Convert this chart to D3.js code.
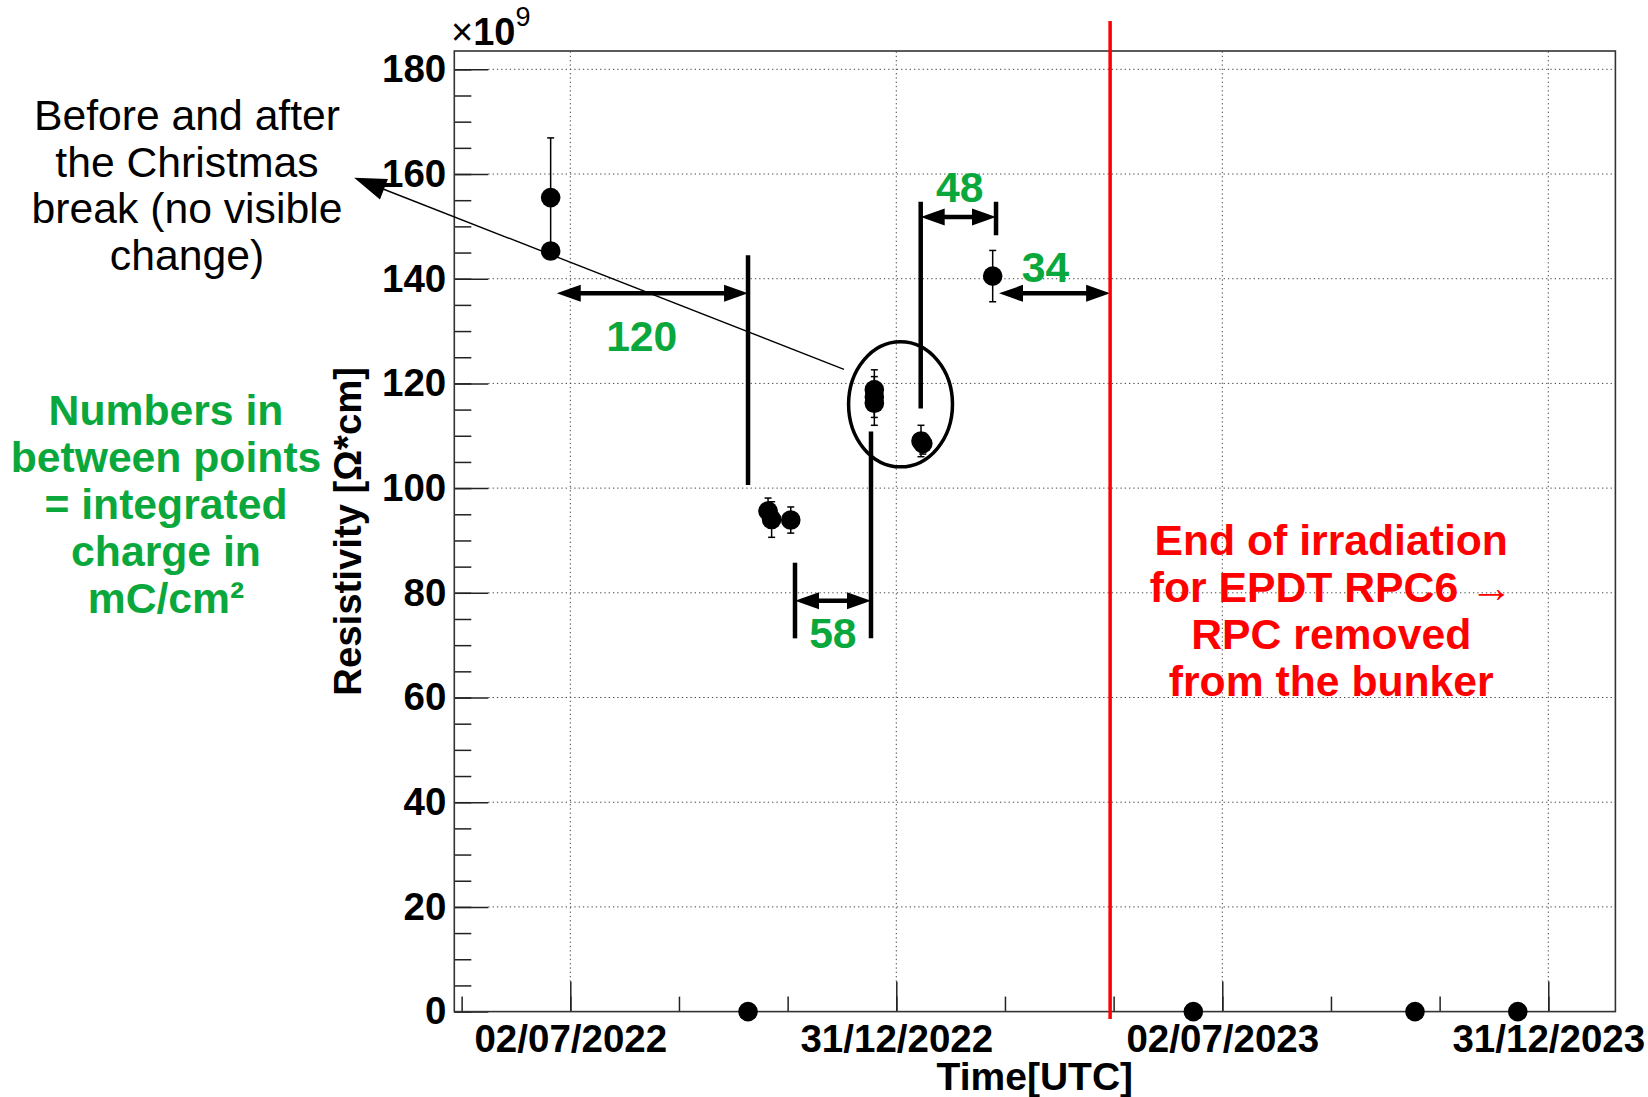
<!DOCTYPE html>
<html><head><meta charset="utf-8">
<script src="https://cdn.jsdelivr.net/npm/d3@7"></script>
<style>
body{margin:0;background:#fff}
svg{display:block}
text{font-family:"Liberation Sans",Arial,Helvetica,sans-serif}
</style>
</head><body><svg id="c" width="1648" height="1097"></svg>
<script>
// ---- data ----
const pointDates = ["2022-06-21T00:00Z","2022-06-21T00:00Z","2022-10-09T12:00Z","2022-10-20T17:00Z","2022-10-22T17:00Z","2022-11-02T10:00Z","2022-12-19T05:00Z","2022-12-19T05:00Z","2022-12-19T05:00Z","2023-01-14T08:00Z","2023-01-15T08:00Z","2023-02-23T11:00Z","2023-06-15T19:00Z","2023-10-17T21:00Z","2023-12-14T10:00Z"];
const pointValues = [155.5,145.3,0,95.6,94.0,93.9,118.8,117.4,116.2,109.0,108.5,140.5,0,0,0];
const pointErrors = [11.4,0,0,2.5,3.4,2.5,3.8,3.9,4.2,3.0,2.0,4.9,0,0,0];

const majorTickDates = ["2022-07-02T00:00Z","2022-12-31T12:00Z","2023-07-02T00:00Z","2023-12-31T12:00Z"];
const majorTickLabels = ["02/07/2022","31/12/2022","02/07/2023","31/12/2023"];
const yTickValues = [0,20,40,60,80,100,120,140,160,180];
const yMinorValues = d3.range(0, 185, 5);

const endOfIrradiation = "2023-04-30T05:00Z";

// integrated charge annotations (mC/cm2)
const chargeLabels = ["120","58","48","34"];
const chargeFrom = ["2022-06-24T10:00Z","2022-11-04T19:00Z","2023-01-14T04:00Z","2023-02-27T00:00Z"];
const chargeTo = ["2022-10-09T12:00Z","2022-12-17T08:00Z","2023-02-25T08:00Z","2023-04-30T05:00Z"];
const chargeLevel = [137.2,78.5,151.8,137.2];
const chargeLabelDate = ["2022-08-11T00:00Z","2022-11-26T00:00Z","2023-02-05T00:00Z","2023-03-25T00:00Z"];
const chargeLabelValue = [126.1,69.5,154.7,139.4];

const barDates = ["2022-10-09T12:00Z","2022-11-04T19:00Z","2022-12-17T08:00Z","2023-01-14T04:00Z","2023-02-25T08:00Z"];
const barTop = [144.5,85.75,110.8,154.7,154.7];
const barBottom = [100.6,71.3,71.3,115.2,148.3];

const noteLines = ["Before and after","the Christmas","break (no visible","change)"];
const greenLines = ["Numbers in","between points","= integrated","charge in","mC/cm²"];
const redLines = ["End of irradiation","for EPDT RPC6 →","RPC removed","from the bunker"];

// ---- scales ----
const L = 454.3, R = 1615.4, T = 51, B = 1011.6;
const x = d3.scaleUtc().domain([new Date("2022-04-28T01:30Z"), new Date("2024-02-07T01:40Z")]).range([L, R]);
const y = d3.scaleLinear().domain([0, 183.5]).range([B, T]);
const D = s => new Date(s);

const svg = d3.select("#c");
const FONT = '"Liberation Sans",Arial,Helvetica,sans-serif';
const ANN = 42.7;

// minor x ticks every third of a major interval
const majorDates = majorTickDates.map(D);
const step = (majorDates[1] - majorDates[0]) / 3;
const xMinor = [];
for (let t = +majorDates[0] - 3*step; t <= +x.domain()[1]; t += step) if (t >= +x.domain()[0]) xMinor.push(new Date(t));

// ---- grid ----
const grid = svg.append("g").attr("stroke", "#444").attr("stroke-width", 1).attr("stroke-dasharray", "1.3,3");
grid.selectAll("line.gx").data(majorDates).join("line")
  .attr("x1", d => x(d)).attr("x2", d => x(d)).attr("y1", B - 30).attr("y2", T);
grid.selectAll("line.gy").data(yTickValues.slice(1)).join("line")
  .attr("x1", L + 34).attr("x2", R).attr("y1", d => y(d)).attr("y2", d => y(d));

// ---- axes ----
function styleAxis(g, size) {
  g.select(".domain").remove();
  g.selectAll(".tick line").attr("stroke", "#222").attr("stroke-width", 1.5);
  g.selectAll("text").attr("font-family", FONT).attr("font-weight", "bold").attr("font-size", size).attr("fill", "#000");
}
svg.append("g").attr("transform", `translate(${L},0)`)
  .call(d3.axisLeft(y).tickValues(yMinorValues).tickSize(-17).tickFormat(""))
  .call(g => styleAxis(g, 38.5));
svg.append("g").attr("transform", `translate(${L},0)`)
  .call(d3.axisLeft(y).tickValues(yTickValues).tickSize(-34).tickPadding(8).tickFormat(d3.format("d")))
  .call(g => styleAxis(g, 38.5));
svg.append("g").attr("transform", `translate(0,${B})`)
  .call(d3.axisBottom(x).tickValues(xMinor).tickSize(-15).tickFormat(""))
  .call(g => styleAxis(g, 38.5));
svg.append("g").attr("transform", `translate(0,${B})`)
  .call(d3.axisBottom(x).tickValues(majorDates).tickSize(-30).tickPadding(13).tickFormat((d, i) => majorTickLabels[i]))
  .call(g => styleAxis(g, 38.5));

// frame
svg.append("rect").attr("x", L).attr("y", T).attr("width", R - L).attr("height", B - T)
  .attr("fill", "none").attr("stroke", "#333").attr("stroke-width", 1.6);

// exponent
const ex = svg.append("text").attr("x", 451).attr("y", 45).attr("font-size", 38);
ex.append("tspan").text("×");
ex.append("tspan").attr("font-weight", "bold").text("10");
ex.append("tspan").attr("font-size", 27).attr("dy", -19).text("9");

// axis titles
svg.append("text").attr("x", (L + R) / 2).attr("y", 1090).attr("text-anchor", "middle")
  .attr("font-size", 39).attr("font-weight", "bold").text("Time[UTC]");
svg.append("text").attr("transform", `translate(361,${(T + B) / 2}) rotate(-90)`).attr("text-anchor", "middle")
  .attr("font-size", 38.3).attr("font-weight", "bold").text("Resistivity [Ω*cm]");

// ---- data points ----
const pts = pointDates.map((d, i) => ({ d: D(d), v: pointValues[i], e: pointErrors[i] }));
const eb = svg.append("g").attr("stroke", "#000").attr("stroke-width", 1.5);
pts.filter(p => p.e > 0).forEach(p => {
  const cx = x(p.d), y1 = y(p.v + p.e), y2 = y(p.v - p.e);
  eb.append("line").attr("x1", cx).attr("x2", cx).attr("y1", y1).attr("y2", y2);
  eb.append("line").attr("x1", cx - 3.5).attr("x2", cx + 3.5).attr("y1", y1).attr("y2", y1);
  eb.append("line").attr("x1", cx - 3.5).attr("x2", cx + 3.5).attr("y1", y2).attr("y2", y2);
});
svg.append("g").selectAll("circle").data(pts).join("circle")
  .attr("cx", p => x(p.d)).attr("cy", p => y(p.v)).attr("r", 9.8).attr("fill", "#000");

// ---- annotations ----
function tri(tipX, tipY, dx, dy, len, hw) {
  const n = Math.hypot(dx, dy), ux = dx / n, uy = dy / n;
  const bx = tipX - ux * len, by = tipY - uy * len;
  return `M${tipX},${tipY}L${bx - uy * hw},${by + ux * hw}L${bx + uy * hw},${by - ux * hw}Z`;
}
const ann = svg.append("g");
// vertical bars
barDates.forEach((d, i) => {
  ann.append("line").attr("x1", x(D(d))).attr("x2", x(D(d))).attr("y1", y(barTop[i])).attr("y2", y(barBottom[i]))
    .attr("stroke", "#000").attr("stroke-width", 4.5);
});
// double arrows
chargeLabels.forEach((lab, i) => {
  const x1 = x(D(chargeFrom[i])), x2 = x(D(chargeTo[i])), yy = y(chargeLevel[i]);
  const hl = 24, hw = 8.5;
  ann.append("line").attr("x1", x1 + hl - 2).attr("x2", x2 - hl + 2).attr("y1", yy).attr("y2", yy)
    .attr("stroke", "#000").attr("stroke-width", 4.5);
  ann.append("path").attr("d", tri(x1, yy, -1, 0, hl, hw)).attr("fill", "#000");
  ann.append("path").attr("d", tri(x2, yy, 1, 0, hl, hw)).attr("fill", "#000");
  ann.append("text").attr("x", x(D(chargeLabelDate[i]))).attr("y", y(chargeLabelValue[i]))
    .attr("text-anchor", "middle").attr("font-size", ANN).attr("font-weight", "bold").attr("fill", "#0aa83c").text(lab);
});
// ellipse around Christmas points
const ec = D("2023-01-02T21:00Z"), ev = 116.0;
ann.append("ellipse").attr("cx", x(ec)).attr("cy", y(ev))
  .attr("rx", x(d3.utcHour.offset(ec, 29.1 * 24)) - x(ec)).attr("ry", y(ev) - y(ev + 11.94))
  .attr("fill", "none").attr("stroke", "#000").attr("stroke-width", 3.5);
// pointer line
const p0 = [x(D("2022-12-02T05:00Z")), y(122.7)], p1 = [x(D("2022-03-03T00:00Z")), y(159.3)];
ann.append("line").attr("x1", p0[0]).attr("y1", p0[1]).attr("x2", p1[0] + 20).attr("y2", p1[1] + 20 * (p0[1] - p1[1]) / (p0[0] - p1[0]))
  .attr("stroke", "#000").attr("stroke-width", 1.4);
ann.append("path").attr("d", tri(p1[0], p1[1], p1[0] - p0[0], p1[1] - p0[1], 32, 11)).attr("fill", "#000");

// red line
const xr = x(D(endOfIrradiation));
svg.append("line").attr("x1", xr).attr("x2", xr).attr("y1", 21).attr("y2", 1019)
  .attr("stroke", "#ff0000").attr("stroke-width", 3.5);

// texts
const tb = svg.append("text").attr("font-size", ANN).attr("fill", "#000").attr("text-anchor", "middle");
noteLines.forEach((s, i) => tb.append("tspan").attr("x", 187).attr("y", 130 + i * 46.7).text(s));
const tg = svg.append("text").attr("font-size", ANN).attr("font-weight", "bold").attr("fill", "#0aa83c").attr("text-anchor", "middle");
greenLines.forEach((s, i) => tg.append("tspan").attr("x", 166).attr("y", 425 + i * 47).text(s));
const tr = svg.append("text").attr("font-size", ANN).attr("font-weight", "bold").attr("fill", "#ff0000").attr("text-anchor", "middle");
const redCenter = x(D("2023-09-01T00:00Z"));
redLines.forEach((s, i) => tr.append("tspan").attr("x", redCenter).attr("y", y(87.2) + i * 47).text(s));
</script></body></html>
